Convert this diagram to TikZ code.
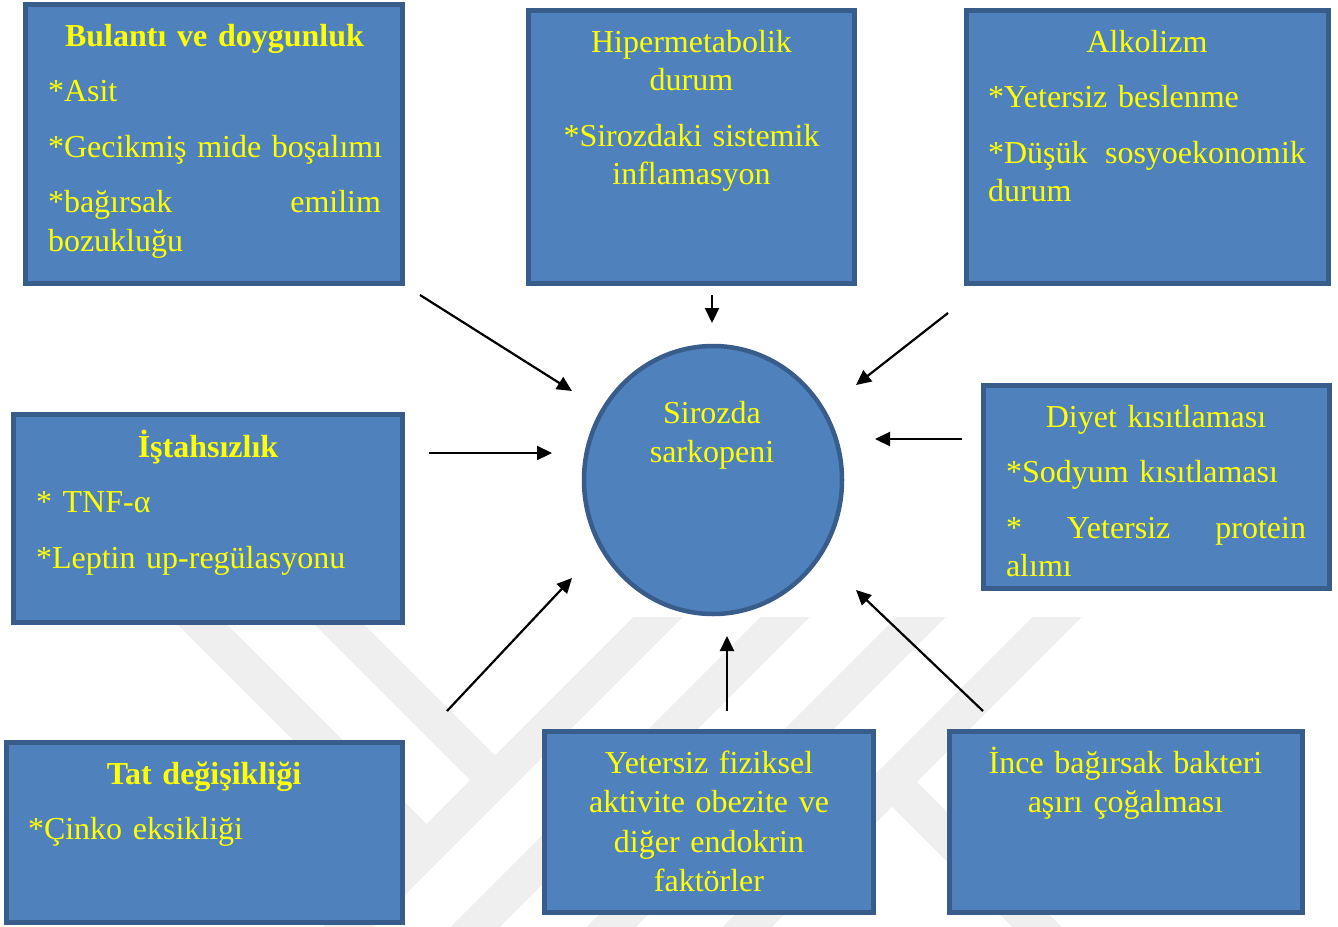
\documentclass[tikz,border=0pt]{standalone}
\usepackage{fontspec}
\setmainfont{Liberation Serif}
\usetikzlibrary{arrows.meta,shapes.geometric}
\definecolor{boxfill}{HTML}{4F81BD}
\definecolor{boxline}{HTML}{385D8A}
\definecolor{txtyellow}{HTML}{FFFF00}
\definecolor{wmark}{HTML}{EFEFEF}
\newcommand\mytxtfont[1]{\fontsize{32}{#1}\selectfont\fontdimen2\font=6.4pt\relax}
\newcommand\mytitle[1]{{\bfseries\fontdimen2\font=6.4pt\relax #1}}
\begin{document}
\begin{tikzpicture}[x=1pt,y=-1pt,
  box/.style={rectangle, draw=boxline, line width=5pt, fill=boxfill, inner sep=0pt},
  circ/.style={ellipse, draw=boxline, line width=4.5pt, fill=boxfill, inner sep=0pt},
  txt/.style={text=txtyellow, font={\mytxtfont{38.5}}, inner sep=0pt, anchor=base},
  txtw/.style={text=txtyellow, font={\mytxtfont{39.5}}, inner sep=0pt, anchor=base},
  arr/.style={draw=black, line width=2.2pt, -{Triangle[length=15pt,width=14pt]}},
  stripe/.style={draw=wmark, line width=35pt}]
\useasboundingbox (0,0) rectangle (1338,926);
\fill[white] (0,0) rectangle (1338,926);
% faint watermark
\begin{scope}
\clip (0,617) rectangle (1338,926);
\draw[stripe] (688,587) -- (319,956);
\draw[stripe] (815,587) -- (446,956);
\draw[stripe] (951,587) -- (582,956);
\draw[stripe] (1087,587) -- (718,956);
\draw[stripe] (165,587) -- (426,848);
\draw[stripe] (302,587) -- (495,780);
\draw[stripe] (892,782) -- (1066,956);
\end{scope}
% boxes
\node[box, minimum width=377pt, minimum height=279pt] (b1) at (214,144) {};
\node[box, minimum width=326pt, minimum height=273pt] (b2) at (691.5,147) {};
\node[box, minimum width=362pt, minimum height=273pt] (b3) at (1147.5,147) {};
\node[box, minimum width=389pt, minimum height=208pt] (b4) at (208,518.5) {};
\node[box, minimum width=346pt, minimum height=203pt] (b5) at (1156.5,487) {};
\node[box, minimum width=396pt, minimum height=180pt] (b6) at (204.5,832) {};
\node[box, minimum width=329pt, minimum height=181pt] (b7) at (709,822) {};
\node[box, minimum width=353pt, minimum height=181pt] (b8) at (1125.5,822) {};
\node[circ, minimum width=258pt, minimum height=268pt] (c) at (713,480) {};
% texts
\node[txt, text width=333pt, align=left] (t1) at (214.5,46) {\makebox[\linewidth]{\mytitle{Bulantı ve doygunluk}}\\[17pt]*Asit\\[17pt]\mbox{*Gecikmiş mide boşalımı}\\[17pt]\makebox[\linewidth][s]{*bağırsak\hfill emilim}\\bozukluğu};
\node[txt, text width=300pt, align=center] (t2) at (691.5,52) {Hipermetabolik\\durum\\[17pt]*Sirozdaki sistemik\\inflamasyon};
\node[txt, text width=318pt, align=left] (t3) at (1147,52) {\makebox[\linewidth]{Alkolizm}\\[17pt]*Yetersiz beslenme\\[17pt]\makebox[\linewidth][s]{*Düşük\hfill sosyoekonomik}\\durum};
\node[txt, text width=344pt, align=left] (t4) at (208,457) {\makebox[\linewidth]{\mytitle{İştahsızlık}}\\[17pt]* TNF-α\\[17pt]\mbox{*Leptin up-regülasyonu}};
\node[txt, text width=300pt, align=left] (t5) at (1156,427) {\makebox[\linewidth]{Diyet kısıtlaması}\\[17pt]\mbox{*Sodyum kısıtlaması}\\[17pt]\makebox[\linewidth][s]{*\hfill Yetersiz\hfill protein}\\alımı};
\node[txt, text width=352pt, align=left] (t6) at (204,784) {\makebox[\linewidth]{\mytitle{Tat değişikliği}}\\[17pt]*Çinko eksikliği};
\node[txtw, text width=320pt, align=center] (t7) at (709,773) {Yetersiz fiziksel\\aktivite obezite ve\\diğer endokrin\\faktörler};
\node[txtw, text width=330pt, align=center] (t8) at (1125.5,773) {İnce bağırsak bakteri\\aşırı çoğalması};
\node[txtw, text width=240pt, align=center] (ct) at (712,423) {Sirozda\\sarkopeni};
% arrow ends
\coordinate (a1s) at (420,295); \coordinate (a1e) at (572,391);
\coordinate (a2s) at (712,295); \coordinate (a2e) at (712,323);
\coordinate (a3s) at (948,313); \coordinate (a3e) at (856,385);
\coordinate (a4s) at (429,453); \coordinate (a4e) at (552,453);
\coordinate (a5s) at (962,439); \coordinate (a5e) at (875,439);
\coordinate (a6s) at (447,711); \coordinate (a6e) at (572,578);
\coordinate (a7s) at (727,711); \coordinate (a7e) at (727,636);
\coordinate (a8s) at (983,711); \coordinate (a8e) at (856,590);
\draw[arr] (a1s) -- (a1e);
\draw[arr] (a2s) -- (a2e);
\draw[arr] (a3s) -- (a3e);
\draw[arr] (a4s) -- (a4e);
\draw[arr] (a5s) -- (a5e);
\draw[arr] (a6s) -- (a6e);
\draw[arr] (a7s) -- (a7e);
\draw[arr] (a8s) -- (a8e);
\end{tikzpicture}
\end{document}
